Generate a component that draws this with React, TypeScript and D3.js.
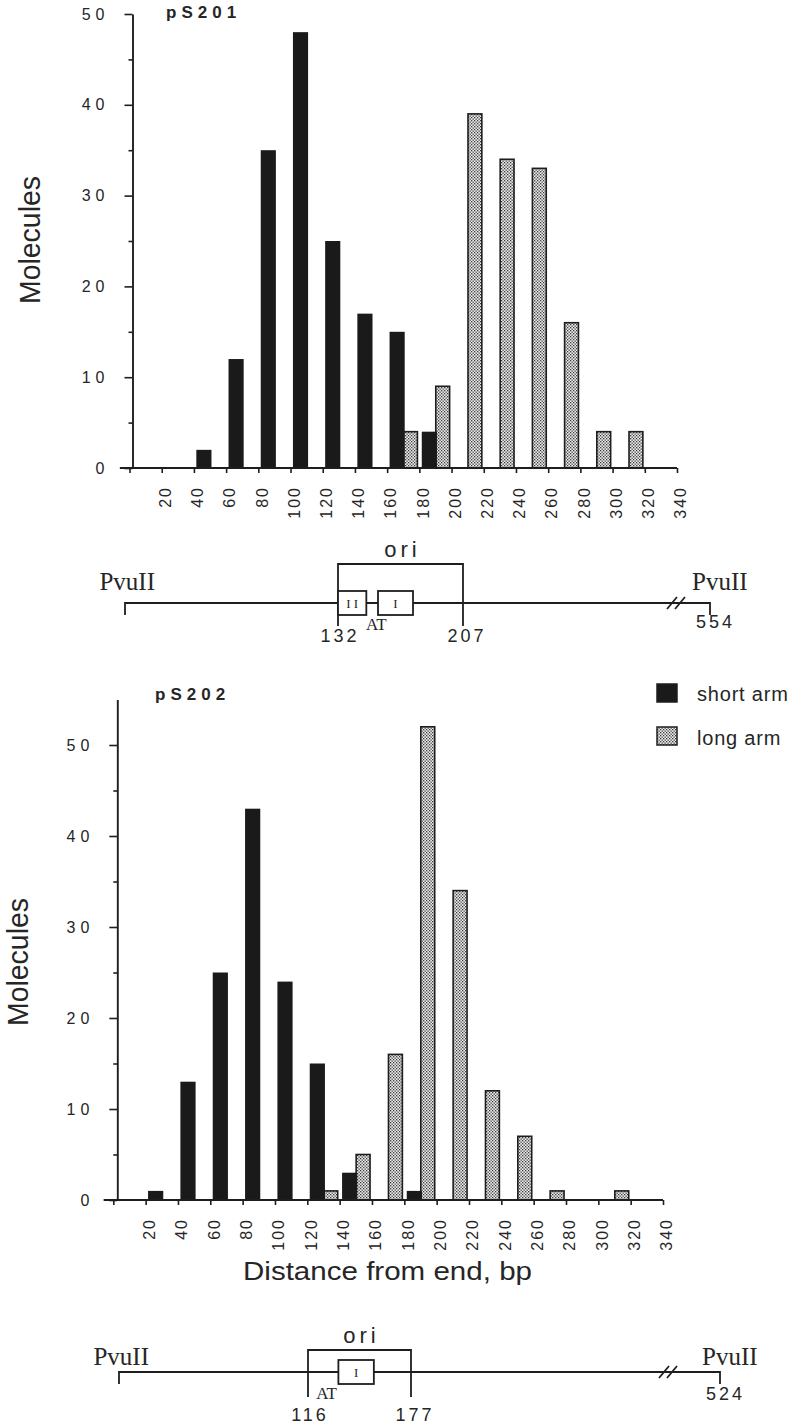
import React, { useRef, useEffect } from "react";
import * as d3 from "d3";

// bin starts (bp) and molecule counts
const pS201ShortBins = [40, 60, 80, 100, 120, 140, 160, 180];
const pS201ShortCounts = [2, 12, 35, 48, 25, 17, 15, 4];
const pS201LongBins = [160, 180, 200, 220, 240, 260, 280, 300];
const pS201LongCounts = [4, 9, 39, 34, 33, 16, 4, 4];

const pS202ShortBins = [20, 40, 60, 80, 100, 120, 140, 180];
const pS202ShortCounts = [1, 13, 25, 43, 24, 15, 3, 1];
const pS202LongBins = [120, 140, 160, 180, 200, 220, 240, 260, 300];
const pS202LongCounts = [1, 5, 16, 52, 34, 12, 7, 1, 1];

const xTickValues = [0, 20, 40, 60, 80, 100, 120, 140, 160, 180, 200, 220, 240, 260, 280, 300, 320, 340];
const yTickValues = [0, 5, 10, 15, 20, 25, 30, 35, 40, 45, 50];
const legendLabels = ["short arm", "long arm"];

// maps under each histogram: PvuII end, ori start, ori end, PvuII end
const pS201MapStops = [0, 132, 207, 554];
const pS201Boxes = [
  { from: 132, to: 149, label: "I I" },
  { from: 156, to: 177, label: "I" },
];
const pS202MapStops = [0, 116, 177, 524];
const pS202Boxes = [{ from: 134, to: 155, label: "I" }];

const SANS = "'Liberation Sans', Arial, Helvetica, sans-serif";
const SERIF = "'Liberation Serif', 'Times New Roman', serif";
const INK = "#1e1e1e";
const TXT = "#262626";

function drawHist(svg: any, o: any) {
  const x = d3.scaleLinear().domain([0, 340]).range([o.x0, o.x1]);
  const y = d3.scaleLinear().domain([0, o.yMax]).range([o.base, o.top]);
  const g = svg.append("g");
  const ax = o.x0 + o.axisShift;

  // bars: long arm (stippled) first, short arm (black) on top
  g.append("g")
    .selectAll("rect")
    .data(o.longBins.map((b: number, i: number) => ({ b, n: o.longCounts[i] })))
    .join("rect")
    .attr("x", (d: any) => x(d.b + 10.2))
    .attr("width", (d: any) => x(d.b + 18.8) - x(d.b + 10.2))
    .attr("y", (d: any) => y(d.n))
    .attr("height", (d: any) => y(0) - y(d.n))
    .attr("fill", "url(#stipple)")
    .attr("stroke", INK)
    .attr("stroke-width", 1.6);

  g.append("g")
    .selectAll("rect")
    .data(o.shortBins.map((b: number, i: number) => ({ b, n: o.shortCounts[i] })))
    .join("rect")
    .attr("x", (d: any) => x(d.b + 1.5))
    .attr("width", (d: any) => x(d.b + 10.9) - x(d.b + 1.5))
    .attr("y", (d: any) => y(d.n))
    .attr("height", (d: any) => y(0) - y(d.n))
    .attr("fill", "#1a1a1a");

  // x axis
  const xa = g
    .append("g")
    .attr("transform", `translate(0,${o.base})`)
    .call(
      d3
        .axisBottom(x)
        .tickValues(xTickValues)
        .tickSize(5)
        .tickSizeOuter(0)
        .tickFormat((d: any) => (d === 0 ? "" : String(d)))
    );
  xa.select(".domain").remove();
  xa.append("line")
    .attr("x1", x(-6))
    .attr("x2", x(340))
    .attr("stroke", INK)
    .attr("stroke-width", 1.9);
  xa.selectAll(".tick line").attr("stroke", INK).attr("stroke-width", 1.6);
  xa.selectAll(".tick text")
    .attr("transform", "rotate(-90)")
    .attr("text-anchor", "end")
    .attr("x", -18)
    .attr("y", 3)
    .attr("dy", "0.36em")
    .attr("fill", TXT)
    .attr("font-size", 16)
    .attr("letter-spacing", 2)
    .attr("font-family", SANS);

  // y axis
  const ya = g
    .append("g")
    .attr("transform", `translate(${ax},0)`)
    .call(
      d3
        .axisLeft(y)
        .tickValues(yTickValues)
        .tickSizeOuter(0)
        .tickFormat((d: any) => (d % 10 === 0 ? String(d) : ""))
    );
  ya.select(".domain").attr("stroke", INK).attr("stroke-width", 1.9);
  ya.selectAll(".tick line")
    .attr("x2", (d: any) => (d % 10 === 0 ? -8 : -4))
    .attr("stroke", INK)
    .attr("stroke-width", 1.6);
  ya.selectAll(".tick text")
    .attr("x", -23)
    .attr("fill", TXT)
    .attr("font-size", 16)
    .attr("letter-spacing", 5)
    .attr("font-family", SANS);

  // title + y label
  g.append("text")
    .attr("x", o.titleX)
    .attr("y", o.titleY)
    .attr("font-family", SANS)
    .attr("font-weight", "bold")
    .attr("font-size", 17)
    .attr("letter-spacing", 5)
    .attr("fill", TXT)
    .text(o.title);

  g.append("text")
    .attr("transform", `translate(${o.ylabX},${o.ylabY}) rotate(-90)`)
    .attr("text-anchor", "middle")
    .attr("font-family", SANS)
    .attr("font-size", 30)
    .attr("textLength", 128)
    .attr("lengthAdjust", "spacingAndGlyphs")
    .attr("fill", TXT)
    .text("Molecules");
}

function drawMap(svg: any, o: any) {
  const s = d3.scaleLinear().domain(o.stops).range(o.px);
  const [start, oriA, oriB, end] = o.stops;
  const L = o.lineY;
  const g = svg.append("g").attr("stroke", INK).attr("fill", "none");

  // backbone with end ticks
  g.append("path")
    .attr("d", `M${s(start)},${L + 12}V${L}H${s(end)}V${L + 12}`)
    .attr("stroke-width", 1.8);
  // break marks
  [0, 8].forEach((dx) => {
    g.append("line")
      .attr("x1", o.breakX + dx - 5)
      .attr("y1", L + 6)
      .attr("x2", o.breakX + dx + 5)
      .attr("y2", L - 6)
      .attr("stroke-width", 1.8);
  });
  // ori bracket
  g.append("path")
    .attr("d", `M${s(oriA)},${o.vBottom}V${o.bracketY}H${s(oriB)}V${o.vBottom}`)
    .attr("stroke-width", 1.8);
  // boxes
  o.boxes.forEach((b: any) => {
    g.append("rect")
      .attr("x", s(b.from))
      .attr("y", L - 12)
      .attr("width", s(b.to) - s(b.from))
      .attr("height", 24)
      .attr("fill", "#fff")
      .attr("stroke-width", 1.8);
    svg
      .append("text")
      .attr("x", (s(b.from) + s(b.to)) / 2)
      .attr("y", L + 5)
      .attr("text-anchor", "middle")
      .attr("font-family", SERIF)
      .attr("font-size", 13)
      .attr("fill", TXT)
      .text(b.label);
  });

  const t = (x: number, y: number, txt: string, font: string, size: number, anchor: string, ls = 0) =>
    svg
      .append("text")
      .attr("x", x)
      .attr("y", y)
      .attr("text-anchor", anchor)
      .attr("font-family", font)
      .attr("font-size", size)
      .attr("letter-spacing", ls)
      .attr("fill", TXT)
      .text(txt);

  t((s(oriA) + s(oriB)) / 2 + 2, o.bracketY - 7, "ori", SANS, 22, "middle", 4);
  t(s(start) + 30, o.pvuY, "PvuII", SERIF, 25, "end");
  t(s(end) - 18, o.pvuY, "PvuII", SERIF, 25, "start");
  t(s(o.atPos), o.atY, "AT", SERIF, 17, "middle");
  t(s(oriA) + 2, o.numY, String(oriA), SANS, 18, "middle", 3);
  t(s(oriB) + 4, o.numY, String(oriB), SANS, 18, "middle", 3);
  t(s(end) - 14, o.endY, String(end), SANS, 18, "start", 3);
}

export default function App() {
  const svgRef = useRef<SVGSVGElement>(null);

  useEffect(() => {
    const svg = d3.select(svgRef.current);
    svg.selectAll("*").remove();

    const pat = svg
      .append("defs")
      .append("pattern")
      .attr("id", "stipple")
      .attr("width", 3)
      .attr("height", 3)
      .attr("patternUnits", "userSpaceOnUse");
    pat.append("rect").attr("width", 3).attr("height", 3).attr("fill", "#ececec");
    pat.append("rect").attr("width", 1.3).attr("height", 1.3).attr("fill", "#3a3a3a");
    pat.append("rect").attr("x", 1.5).attr("y", 1.5).attr("width", 1.3).attr("height", 1.3).attr("fill", "#3a3a3a");

    drawHist(svg, {
      x0: 129.5, x1: 677, base: 468, top: 14, yMax: 50, axisShift: 3,
      shortBins: pS201ShortBins, shortCounts: pS201ShortCounts,
      longBins: pS201LongBins, longCounts: pS201LongCounts,
      title: "pS201", titleX: 166, titleY: 18, ylabX: 40, ylabY: 240,
    });

    drawHist(svg, {
      x0: 113.3, x1: 663, base: 1200, top: 699.5, yMax: 55, axisShift: 4,
      shortBins: pS202ShortBins, shortCounts: pS202ShortCounts,
      longBins: pS202LongBins, longCounts: pS202LongCounts,
      title: "pS202", titleX: 155, titleY: 700, ylabX: 28, ylabY: 962,
    });

    // x label (bottom chart)
    svg
      .append("text")
      .attr("x", 243)
      .attr("y", 1280)
      .attr("font-family", SANS)
      .attr("font-size", 26)
      .attr("textLength", 289)
      .attr("lengthAdjust", "spacingAndGlyphs")
      .attr("fill", TXT)
      .text("Distance from end, bp");

    // legend
    const lg = svg.append("g");
    legendLabels.forEach((lab, i) => {
      lg.append("rect")
        .attr("x", 657)
        .attr("y", 684 + i * 43)
        .attr("width", 20)
        .attr("height", 18)
        .attr("fill", i === 0 ? "#1a1a1a" : "url(#stipple)")
        .attr("stroke", INK)
        .attr("stroke-width", 1.5);
      lg.append("text")
        .attr("x", 697)
        .attr("y", 701 + i * 44)
        .attr("font-family", SANS)
        .attr("font-size", 20)
        .attr("letter-spacing", 0.8)
        .attr("fill", TXT)
        .text(lab);
    });

    drawMap(svg, {
      stops: pS201MapStops, px: [125, 338, 463, 710], boxes: pS201Boxes,
      lineY: 603, bracketY: 564, vBottom: 626, pvuY: 590, atPos: 155, atY: 630,
      numY: 642, endY: 628, breakX: 672,
    });

    drawMap(svg, {
      stops: pS202MapStops, px: [119, 308, 411, 720], boxes: pS202Boxes,
      lineY: 1372, bracketY: 1350, vBottom: 1397, pvuY: 1365, atPos: 127, atY: 1399,
      numY: 1421, endY: 1400, breakX: 664,
    });
  }, []);

  return (
    <svg
      ref={svgRef}
      width={791}
      height={1425}
      style={{ position: "absolute", left: 0, top: 0, background: "#fff" }}
    />
  );
}
